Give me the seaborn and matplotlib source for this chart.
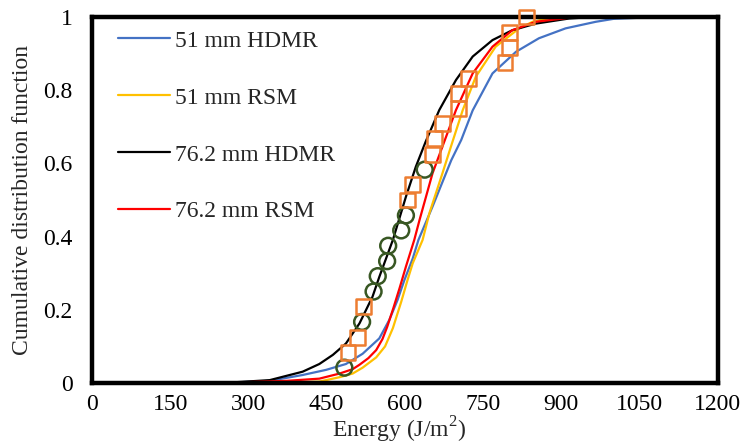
import numpy as np
import pandas as pd
import matplotlib
matplotlib.use("Agg")
import matplotlib.pyplot as plt
import seaborn as sns

# CDF curves (energy in J/m2, cumulative probability)
hdmr51_x = [250, 341, 404, 449, 487, 519, 551, 570, 586, 599, 615, 626, 653, 689, 708,
            730, 768, 813, 857, 908, 966, 1000, 1083]
hdmr51_y = [0.0, 0.006, 0.022, 0.036, 0.052, 0.08, 0.122, 0.172, 0.227, 0.281, 0.34, 0.391,
            0.482, 0.609, 0.664, 0.745, 0.846, 0.905, 0.942, 0.969, 0.987, 0.995, 1.0]

rsm51_x = [334, 436, 475, 500, 519, 545, 562, 577, 593, 605, 615, 634, 647, 672, 691,
           711, 736, 774, 819, 845, 880, 900]
rsm51_y = [0.0, 0.004, 0.016, 0.026, 0.042, 0.07, 0.1, 0.15, 0.222, 0.281, 0.327, 0.391,
           0.464, 0.573, 0.658, 0.746, 0.837, 0.919, 0.969, 0.987, 0.998, 1.0]

hdmr76_x = [250, 341, 404, 436, 462, 487, 513, 538, 551, 577, 602, 621, 640, 666, 698,
            730, 768, 806, 851, 915, 960]
hdmr76_y = [0.0, 0.008, 0.031, 0.052, 0.077, 0.108, 0.163, 0.236, 0.29, 0.391, 0.509, 0.591,
            0.66, 0.746, 0.828, 0.892, 0.937, 0.964, 0.982, 0.996, 1.0]

rsm76_x = [245, 373, 436, 475, 500, 513, 530, 545, 557, 566, 578, 590, 602, 618, 628,
           653, 672, 698, 730, 768, 806, 851, 915, 953]
rsm76_y = [0.0, 0.006, 0.012, 0.026, 0.038, 0.05, 0.068, 0.09, 0.12, 0.153, 0.205, 0.26,
           0.318, 0.391, 0.445, 0.573, 0.646, 0.746, 0.846, 0.919, 0.964, 0.987, 0.998, 1.0]

# experimental points
circ_x = [484, 518, 540, 548, 566, 568, 593, 602, 638]
circ_y = [0.042, 0.167, 0.25, 0.292, 0.333, 0.375, 0.417, 0.458, 0.583]
sq_x = [491, 510, 520, 605, 615, 653, 657, 672, 703, 703, 722, 792, 801, 800, 834]
sq_y = [0.083, 0.125, 0.208, 0.5, 0.542, 0.625, 0.667, 0.708, 0.75, 0.792, 0.833,
        0.875, 0.917, 0.958, 1.0]

labels = ["51 mm HDMR", "51 mm RSM", "76.2 mm HDMR", "76.2 mm RSM"]
colors = ["#4472C4", "#FFC000", "#000000", "#FF0000"]

curves = pd.concat([
    pd.DataFrame({"Energy": x, "CDF": y, "series": lab})
    for x, y, lab in zip([hdmr51_x, rsm51_x, hdmr76_x, rsm76_x],
                         [hdmr51_y, rsm51_y, hdmr76_y, rsm76_y], labels)
], ignore_index=True)

sns.set_style("white")
plt.rcParams["font.family"] = ["Liberation Serif", "DejaVu Serif"]
plt.rcParams["mathtext.fontset"] = "custom"
plt.rcParams["mathtext.rm"] = "Liberation Serif"

fig = plt.figure(figsize=(7.47, 4.48), dpi=100)
ax = fig.add_axes([0.123, 0.145, 0.838, 0.817])

sns.lineplot(data=curves, x="Energy", y="CDF", hue="series", hue_order=labels,
             palette=dict(zip(labels, colors)), sort=False, estimator=None,
             linewidth=1.6, ax=ax)

sns.scatterplot(x=circ_x, y=circ_y, marker="o", s=130, facecolor="none",
                edgecolor="#385723", linewidth=1.8, zorder=4, clip_on=False, ax=ax)
sns.scatterplot(x=sq_x, y=sq_y, marker="s", s=115, facecolor="none",
                edgecolor="#ED7D31", linewidth=1.8, zorder=4, clip_on=False, ax=ax)

ax.set_xlim(0, 1200)
ax.set_ylim(0, 1)
ax.set_xticks(np.arange(0, 1201, 150))
ax.set_yticks([0, 0.2, 0.4, 0.6, 0.8, 1])
ax.set_yticklabels(["0", "0.2", "0.4", "0.6", "0.8", "1"])
ax.tick_params(axis="both", direction="out", length=5, width=2.2, labelsize=17,
               colors="black")
ax.tick_params(axis="y", pad=9)
ax.tick_params(axis="x", pad=3)

for sp in ax.spines.values():
    sp.set_visible(True)
    sp.set_color("black")
    sp.set_linewidth(3.2)

ax.set_xlabel("Energy (J/m$^2$)", fontsize=17)
ax.xaxis.set_label_coords(0.49, -0.087)
ax.set_ylabel("Cumulative distribution function", fontsize=17, labelpad=7)

handles, labs = ax.get_legend_handles_labels()
ax.legend(handles[:4], labs[:4], loc="upper left", bbox_to_anchor=(0.027, 0.99),
          frameon=False, fontsize=17, handlelength=2.2, handletextpad=0.2,
          labelspacing=1.5, borderaxespad=0)

fig.savefig("out.png", dpi=100)
